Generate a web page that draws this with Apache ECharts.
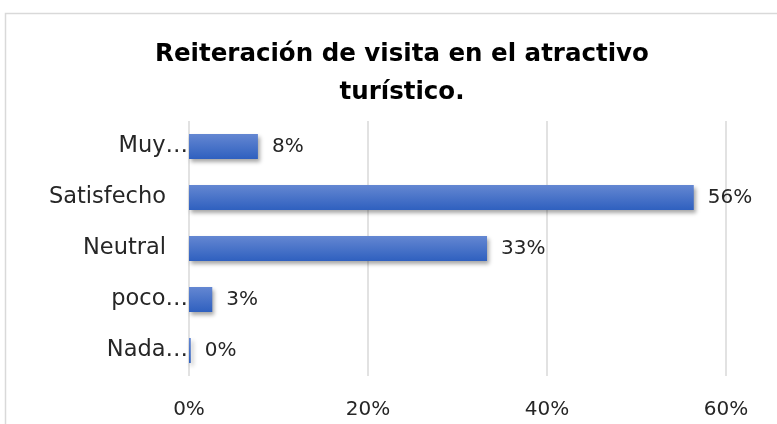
<!DOCTYPE html>
<html>
<head>
<meta charset="utf-8">
<script src="https://cdn.jsdelivr.net/npm/echarts@6/dist/echarts.min.js"></script>
<style>
    html, body { margin: 0; padding: 0; background: #fff; }
    #chart { width: 777px; height: 424px; }
</style>
</head>
<body>
<div id="chart"></div>
<script>
// categories from bottom to top (ECharts category y-axis starts at the bottom)
var categories = ['Nada…', 'poco…', 'Neutral', 'Satisfecho', 'Muy…'];
var values = [0.002, 0.026, 0.333, 0.564, 0.077];
var xTicks = [0, 0.2, 0.4, 0.6];

var chart = echarts.init(document.getElementById('chart'));
var fontFam = '"DejaVu Sans", sans-serif';

var option = {
    backgroundColor: '#fff',
    animation: false,
    graphic: [
        {
            type: 'rect',
            shape: { x: 5.5, y: 13.5, width: 800, height: 450 },
            style: { fill: 'none', stroke: '#d9d9d9', lineWidth: 1.5 },
            silent: true
        }
    ],
    title: {
        text: 'Reiteración de visita en el atractivo\nturístico.',
        left: 397,
        top: 31,
        textAlign: 'center',
        textStyle: {
            fontFamily: fontFam,
            fontWeight: 'bold',
            fontSize: 24.5,
            lineHeight: 38,
            color: '#000'
        }
    },
    grid: {
        left: 189,
        right: 51,
        top: 121,
        bottom: 48
    },
    xAxis: {
        type: 'value',
        min: xTicks[0],
        max: xTicks[xTicks.length - 1],
        interval: 0.2,
        axisLine: { show: false },
        axisTick: { show: false },
        splitLine: { lineStyle: { color: '#d9d9d9', width: 1.5 } },
        axisLabel: {
            margin: 24,
            fontFamily: fontFam,
            fontSize: 20,
            color: '#262626',
            formatter: function (v) { return Math.round(v * 100) + '%'; }
        }
    },
    yAxis: {
        type: 'category',
        data: categories,
        axisLine: { show: false },
        axisTick: { show: false },
        axisLabel: {
            margin: 1,
            fontFamily: fontFam,
            fontSize: 22.5,
            color: '#262626',
            formatter: function (v) {
                return v.slice(-1) === '…' ? v : '{p|' + v + '}';
            },
            rich: {
                p: {
                    fontFamily: fontFam,
                    fontSize: 22.5,
                    color: '#262626',
                    padding: [0, 22, 0, 0]
                }
            }
        }
    },
    series: [
        {
            type: 'bar',
            data: values,
            barWidth: 25,
            itemStyle: {
                color: new echarts.graphic.LinearGradient(0, 0, 0, 1, [
                    { offset: 0, color: '#6487d2' },
                    { offset: 1, color: '#2f60bf' }
                ]),
                shadowColor: 'rgba(0,0,0,0.35)',
                shadowBlur: 4,
                shadowOffsetX: 2,
                shadowOffsetY: 3
            },
            label: {
                show: true,
                position: 'right',
                distance: 14,
                fontFamily: fontFam,
                fontSize: 20,
                color: '#262626',
                formatter: function (p) { return Math.round(p.value * 100) + '%'; }
            }
        }
    ]
};

chart.setOption(option);
</script>
</body>
</html>
